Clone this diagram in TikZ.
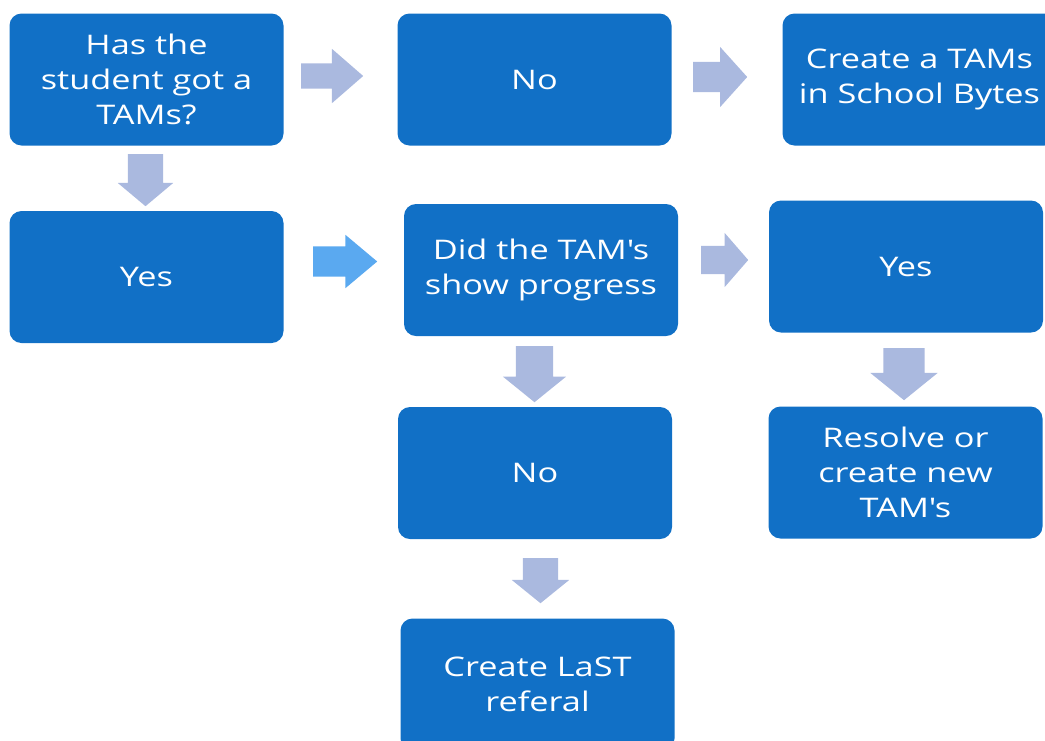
\documentclass[tikz,border=0pt]{standalone}
\usepackage{fontspec}
\setmainfont{Open Sans}[FakeStretch=1.27]
\usetikzlibrary{shapes.arrows, positioning}

\definecolor{boxblue}{RGB}{17,112,198}
\definecolor{arrgrey}{RGB}{170,185,223}
\definecolor{arrbright}{RGB}{90,169,240}

\begin{document}
\begin{tikzpicture}[
    x=1pt, y=-1pt,
    box/.style={fill=boxblue, rounded corners=12pt, text=white, align=center,
        minimum width=274pt, minimum height=132pt, inner sep=0pt,
        font=\fontsize{27}{35}\selectfont},
    blkarr/.style={single arrow, fill=arrgrey, draw=none, inner xsep=0pt,
        single arrow head indent=0pt, anchor=tail},
    down/.style={rotate=-90}
]
    \useasboundingbox (0,0) rectangle (1045,740);
    \clip (0,0) rectangle (1045,740);
    % boxes
    \node[box] (has) at (146.5,79.5) {Has the\\student got a\\TAMs?};
    \node[box] (no1) at (534.5,79.5) {No};
    \node[box] (crt) at (919.5,79.5) {Create a TAMs\\in School Bytes};
    \node[box] (yes1) at (146.5,277) {Yes};
    \node[box] (prog) at (541,270) {Did the TAM\textquotesingle s\\show progress};
    \node[box] (yes2) at (906,266.5) {Yes};
    \node[box] (no2) at (535,473) {No};
    \node[box] (res) at (905.5,472.5) {Resolve or\\create new\\TAM\textquotesingle s};
    \node[box] (last) at (537.5,684.5) {Create LaST\\referal};
    % block arrows
    \node[blkarr, minimum height=62pt, inner ysep=12.5pt, single arrow head extend=14.5pt,
        single arrow tip angle=82] (a1) at (301,76) {};
    \node[blkarr, minimum height=54pt, inner ysep=15pt, single arrow head extend=15pt,
        single arrow tip angle=96] (a2) at (693,77) {};
    \node[blkarr, down, minimum height=52pt, inner ysep=17.5pt, single arrow head extend=10pt,
        single arrow tip angle=100] (a3) at (145.5,154) {};
    \node[blkarr, fill=arrbright, minimum height=64pt, inner ysep=15pt, single arrow head extend=11.5pt,
        single arrow tip angle=80] (a4) at (313,261.5) {};
    \node[blkarr, minimum height=47pt, inner ysep=14pt, single arrow head extend=13pt,
        single arrow tip angle=98] (a5) at (701,260) {};
    \node[blkarr, down, minimum height=56pt, inner ysep=18.5pt, single arrow head extend=13pt,
        single arrow tip angle=102] (a6) at (534.5,346) {};
    \node[blkarr, down, minimum height=52pt, inner ysep=20.5pt, single arrow head extend=13pt,
        single arrow tip angle=102] (a7) at (904,348) {};
    \node[blkarr, down, minimum height=45pt, inner ysep=17.5pt, single arrow head extend=11pt,
        single arrow tip angle=102] (a8) at (540.5,558) {};
\end{tikzpicture}
\end{document}
